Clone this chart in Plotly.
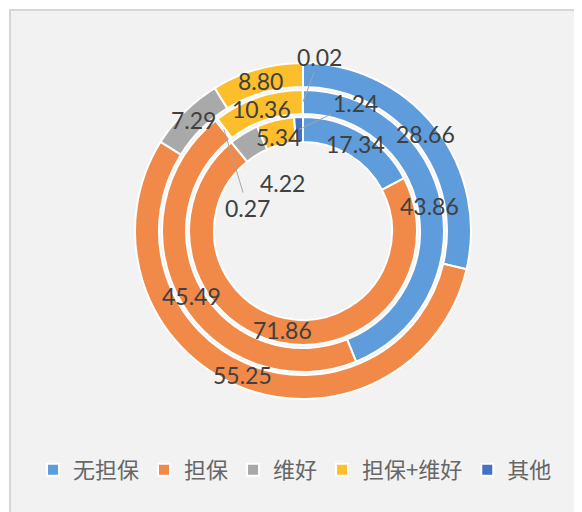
import math
import plotly.graph_objects as go

# categories and ring values (outer -> inner), percent
labels = ["无担保", "担保", "维好", "担保+维好", "其他"]
outer_vals = [28.66, 55.25, 7.29, 8.80, 0.0]
middle_vals = [43.86, 45.49, 0.27, 10.36, 0.02]
inner_vals = [17.34, 71.86, 4.22, 5.34, 1.24]

colors = ["#5e9cdb", "#f18a48", "#a9a9a9", "#fdbe2b", "#4472c4"]

# page body has an 8px margin, so the figure is a bit smaller than the window
OFF = 8
W, H = 582 - OFF, 512 - OFF
CX, CY = 303 - OFF, 231 - OFF   # pie centre in figure px (from top-left)

# ring geometry: (values, outer radius, inner radius) in px
rings = [
    (outer_vals, 168, 144),
    (middle_vals, 141, 117),
    (inner_vals, 114, 89),
]

# labels Excel moved off their slice: (ring, slice) -> (dx, dy, leader line?)
moved = {
    (1, 4): (17, -45, True),
    (2, 4): (56, -27, True),
    (1, 2): (24, 79, True),
    (2, 2): (32, 39, False),
    (2, 3): (0, 4, False),
}


def domain(r):
    cyb = H - CY
    return dict(x=[(CX - r) / W, (CX + r) / W], y=[(cyb - r) / H, (cyb + r) / H])


fig = go.Figure()
annotations = []
for k, (vals, r_out, r_in) in enumerate(rings):
    fig.add_trace(go.Pie(
        labels=labels, values=vals, hole=r_in / r_out, domain=domain(r_out),
        sort=False, direction="clockwise", rotation=0,
        marker=dict(colors=colors, line=dict(color="white", width=2)),
        textinfo="none", hoverinfo="label+value", showlegend=True,
    ))
    total = sum(vals)
    cum = 0.0
    rm = (r_out + r_in) / 2
    for i, v in enumerate(vals):
        if v <= 0:
            continue
        th = (cum + v / 2) / total * 2 * math.pi
        cum += v
        px = CX + rm * math.sin(th)
        py = CY - rm * math.cos(th)
        a = dict(x=px / W, y=1 - py / H, xref="paper", yref="paper",
                 xanchor="center", yanchor="middle", showarrow=False,
                 text="%.2f" % v, font=dict(family="Lato", size=23, color="#404040"))
        if (k, i) in moved:
            dx, dy, leader = moved[(k, i)]
            if leader:
                a.update(showarrow=True, ax=dx, ay=dy, arrowhead=0,
                         arrowwidth=1, arrowcolor="#a6a6a6", standoff=0)
            else:
                a.update(xshift=dx, yshift=-dy)
        annotations.append(a)

fig.update_layout(
    width=W, height=H,
    margin=dict(l=0, r=0, t=0, b=0),
    paper_bgcolor="white",
    plot_bgcolor="white",
    annotations=annotations,
    shapes=[dict(type="rect", xref="paper", yref="paper",
                 x0=2 / W, x1=1.02, y0=-0.02, y1=1 - 2 / H,
                 fillcolor="#f2f2f2", line=dict(color="#d6d6d6", width=2),
                 layer="below")],
    legend=dict(orientation="h", x=0.5, xanchor="center", y=42 / H, yanchor="middle",
                font=dict(family="Noto Sans CJK SC", size=22, color="#666666"),
                bgcolor="rgba(0,0,0,0)", traceorder="normal"),
)

fig.write_html("out.html")
